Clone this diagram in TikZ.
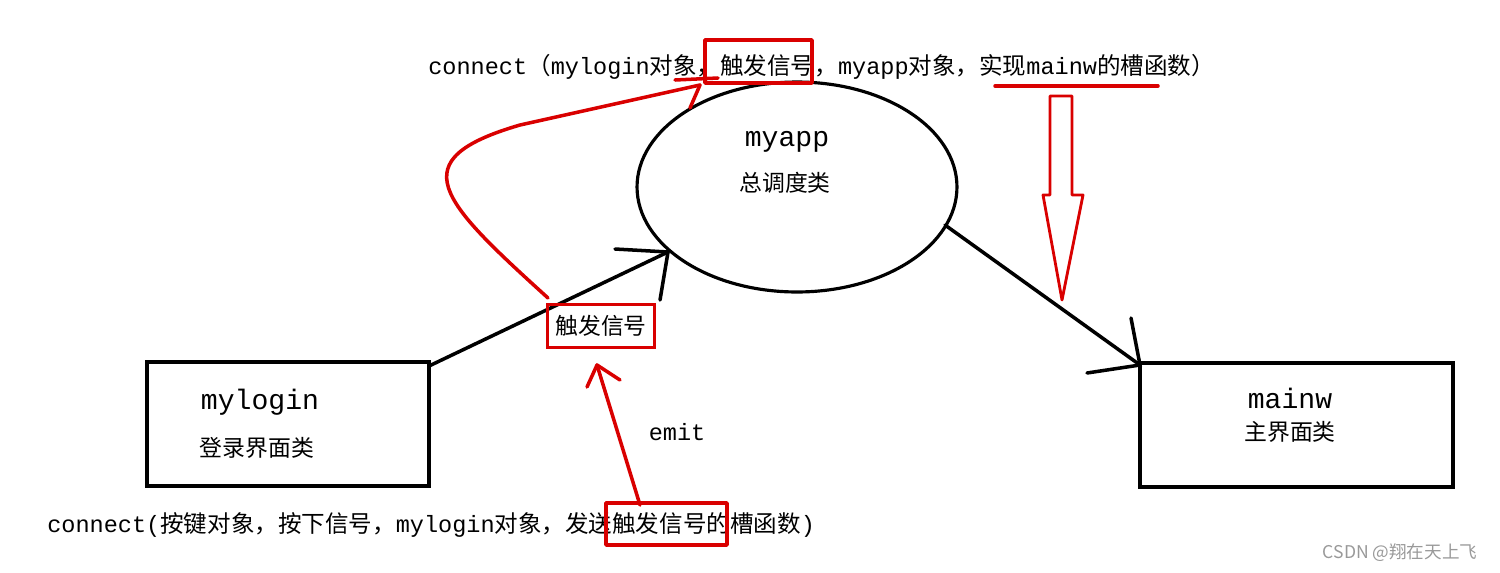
\documentclass[tikz,border=0pt]{standalone}
\usepackage{fontspec}
\usetikzlibrary{shapes.geometric}
\setmainfont{Liberation Mono}
\newfontfamily\zh{Noto Sans CJK SC}
\begin{document}
\begin{tikzpicture}[x=0.02cm,y=-0.02cm,
  box/.style={draw=black,line width=1.8pt},
  rbox/.style={draw=red!85!black,line width=2pt,inner sep=2pt},
  bl/.style={black,line width=2pt,line cap=round},
  rl/.style={red!85!black,line width=2pt,line cap=round,line join=round},
  small/.style={font=\fontsize{13.4}{15}\selectfont},
  big/.style={font=\fontsize{16}{18}\selectfont},
  zhf/.style={font=\zh\fontsize{13}{15}\selectfont}]
\useasboundingbox (0,0) rectangle (1500,572);
% boxes
\draw[box] (147,362) rectangle (429,486);
\draw[box] (1140,363) rectangle (1453,487);
\node[draw,line width=1.8pt,ellipse,minimum width=6.4cm,minimum height=4.2cm,inner sep=0] (app) at (797,187) {};
\node[big] (t1) at (787,142) {myapp};
\node[zhf] (t2) at (785,183) {总调度类};
\node[big] (t3) at (260,402) {mylogin};
\node[zhf] (t4) at (257,448) {登录界面类};
\node[big] (t5) at (1290,398) {mainw};
\node[zhf] (t6) at (1290,432) {主界面类};
% top text
\node[small,anchor=base west,inner sep=0] (top) at (428,74) {connect{\zh （}mylogin{\zh 对象，触发信号，}myapp{\zh 对象，实现}mainw{\zh 的槽函数）}};
\draw[rl] (705,40) rectangle (812,83);
\draw[rl] (995,86) -- (1158,86);
% hollow arrow
\draw[rl,line width=1.6pt] (1050,96) -- (1072,96) -- (1072,195) -- (1083,195) -- (1062,300) -- (1043,195) -- (1050,195) -- cycle;
% black connectors
\coordinate (a1) at (668,252);
\draw[bl] (429,366) -- (a1);
\draw[bl] (615,249) -- (a1) -- (660,300);
\coordinate (a2) at (1140,365);
\draw[bl] (945,225) -- (a2);
\draw[bl] (1131,318) -- (a2) -- (1087,373);
% signal box
\node[rbox,zhf,minimum width=2.14cm,minimum height=0.86cm] (sig) at (601,326) {触发信号};
\coordinate (e1) at (640,505);
\coordinate (e2) at (597,365);
\draw[rl] (e1) -- (e2);
\draw[rl] (587,387) -- (e2) -- (620,380);
\node[small] (emit) at (677,432) {emit};
% bottom text
\node[small,anchor=base west,inner sep=0] (bot) at (47,532) {connect({\zh 按键对象，按下信号，}mylogin{\zh 对象，发送触发信号的槽函数})};
\draw[rl] (606,503) rectangle (727,545);
% red curve
\coordinate (c0) at (548,298);
\coordinate (c1) at (700,85);
\draw[rl] (c0) .. controls (440,200) and (400,160) .. (520,125) -- (c1);
\draw[rl] (675,80) -- (718,78);
\draw[rl] (c1) -- (690,108);
% watermark
\node[font=\zh\fontsize{10}{12}\selectfont,text=gray!80] (wm) at (1400,553) {CSDN @翔在天上飞};
\end{tikzpicture}
\end{document}
